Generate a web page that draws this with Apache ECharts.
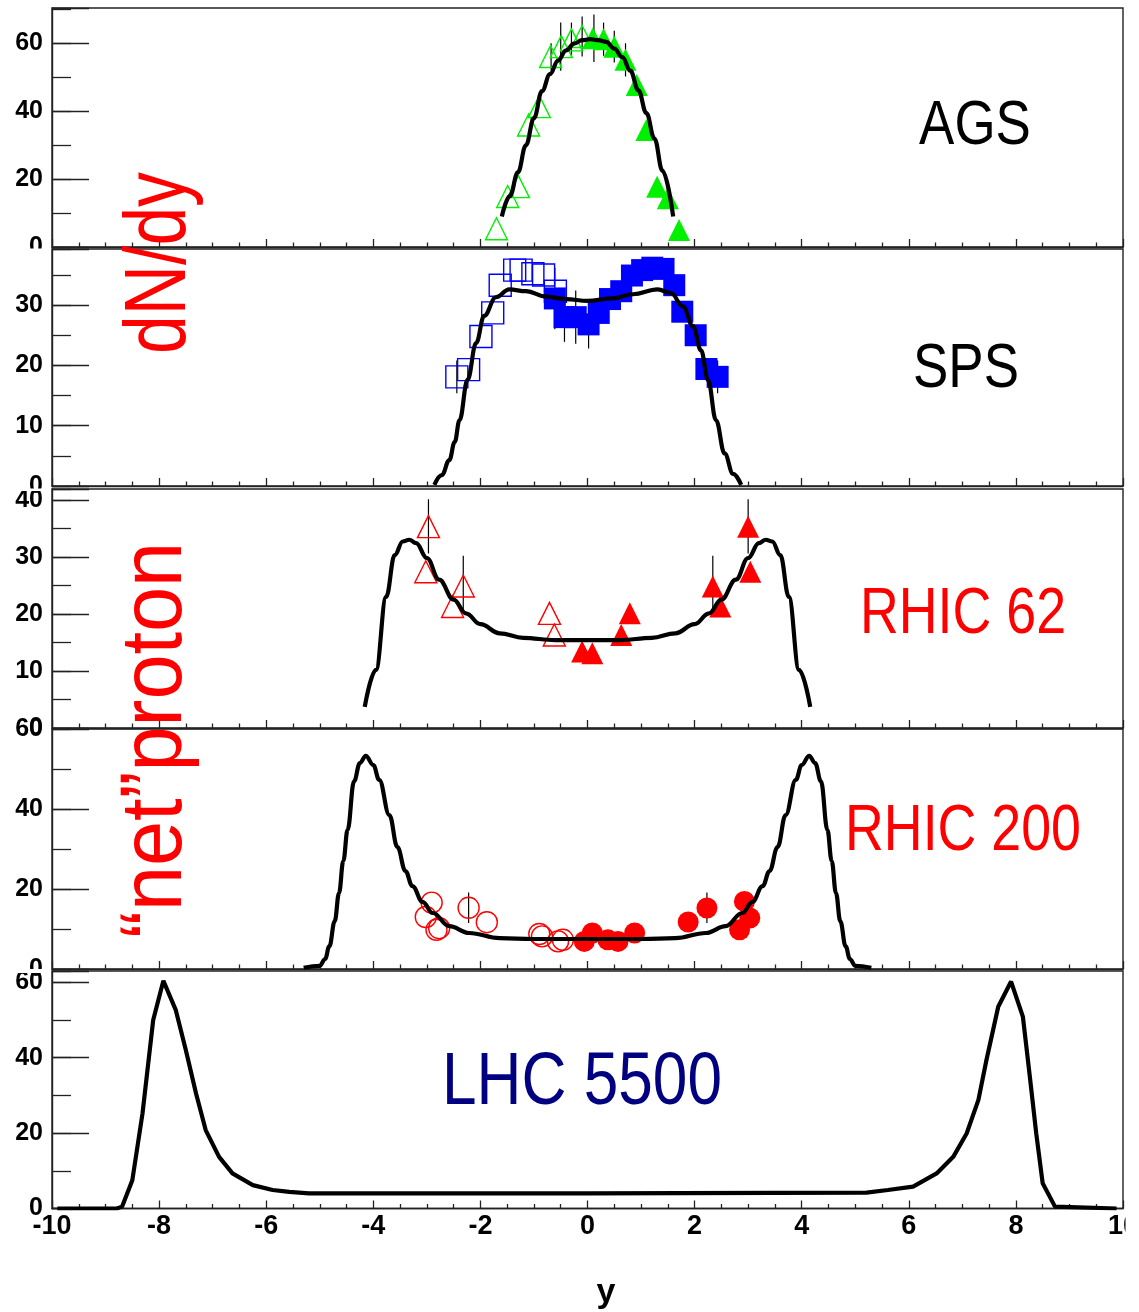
<!DOCTYPE html>
<html><head><meta charset="utf-8">
<script src="https://cdn.jsdelivr.net/npm/echarts@6/dist/echarts.min.js"></script>
<style>html,body{margin:0;padding:0;background:#fff}#chart{width:1139px;height:1312px}</style>
</head><body><div id="chart"></div>
<script>
// ---------- shared axis data ----------
const xTickLabels = [-10, -8, -6, -4, -2, 0, 2, 4, 6, 8, 10];
const panelNames = ['AGS', 'SPS', 'RHIC 62', 'RHIC 200', 'LHC 5500'];
const yMaxValues = [70.5, 39.3, 41.9, 60, 63];
const yMajorStep = [20, 10, 10, 20, 20];

// ---------- AGS ----------
const agsCurveX = [-1.6,-1.45,-1.3,-1.15,-1.0,-0.85,-0.7,-0.55,-0.4,-0.25,-0.1,0.05,0.2,0.35,0.5,0.65,0.8,0.95,1.1,1.25,1.4,1.6];
const agsCurveY = [9,15,22,30,38,46,51,55,58,60,61,61.3,61,60.5,58.5,56,52,46.2,39.5,32,22.5,9];
const agsOpenX = [-1.70,-1.49,-1.29,-1.10,-0.90,-0.69,-0.49,-0.30,-0.10];
const agsOpenY = [5.4,14.9,17.8,36.0,41.4,56.2,59.1,61.1,62.1];
const agsFullX = [0.10,0.30,0.50,0.71,0.92,1.10,1.30,1.50,1.71];
const agsFullY = [61.6,61.3,59.1,55.2,47.8,34.5,17.8,14.4,5.0];
const agsErrX  = [-0.68,-0.50,-0.30,-0.10,0.12,0.30,0.50,0.71];
const agsErrLo = [52.3,52.0,56.0,56.2,54.6,56.4,54.4,50.3];
const agsErrHi = [60.1,66.2,66.2,68.0,68.6,66.2,63.8,60.1];

// ---------- SPS ----------
const spsCurveX = [-2.86,-2.72,-2.58,-2.48,-2.39,-2.24,-2.08,-1.93,-1.71,-1.46,-1.15,-0.77,-0.4,0,0.47,0.85,1.31,1.56,1.78,1.97,2.12,2.25,2.4,2.56,2.72,2.87];
const spsCurveY = [0.2,1.8,4.3,7.3,10.9,17.6,23.7,28.2,31.3,32.6,32.3,31.4,31.0,30.7,31.1,31.8,32.6,32.0,29.8,26.5,22.5,17.6,10.9,5.4,2.0,0.2];
const spsOpenX = [-2.44,-2.22,-1.99,-1.77,-1.63,-1.36,-1.24,-1.02,-0.82,-0.60];
const spsOpenY = [18.1,19.3,24.8,28.7,33.3,35.8,35.8,35.2,35.0,32.3];
const spsFullX = [-0.61,-0.43,-0.22,0.02,0.21,0.42,0.63,0.83,1.02,1.21,1.42,1.62,1.77,2.02,2.22,2.43];
const spsFullY = [31.1,28.0,28.0,26.8,28.7,31.0,32.3,34.9,35.8,36.2,36.0,33.3,28.9,25.0,19.4,18.1];
const spsErrX  = [-2.44,-0.61,-0.43,-0.22,0.02,2.43];
const spsErrLo = [15.4,26.0,23.9,23.6,22.8,15.4];
const spsErrHi = [20.8,36.2,32.1,32.4,30.8,20.8];

// ---------- RHIC 62 ----------
const r62CurveX = [-4.16,-3.95,-3.76,-3.6,-3.45,-3.33,-3.2,-3.0,-2.77,-2.5,-2.27,-2.0,-1.64,-1.2,-0.6,0,0.6,1.2,1.64,2.0,2.27,2.5,2.77,3.0,3.2,3.33,3.45,3.6,3.76,3.95,4.16];
const r62CurveY = [3.7,10.2,23,30.3,32.7,33.0,32.4,29.8,26.0,22.5,20.1,18.2,16.6,15.8,15.4,15.4,15.4,15.8,16.6,18.2,20.1,22.5,26.0,29.8,32.4,33.0,32.7,30.3,23,10.2,3.7];
const r62OpenX = [-3.02,-2.97,-2.52,-2.32,-0.71,-0.62];
const r62OpenY = [27.4,35.3,21.3,24.9,20.1,16.3];
const r62FullX = [-0.10,0.09,0.63,0.79,2.34,2.48,3.00,3.04];
const r62FullY = [13.4,13.1,16.3,20.1,24.8,21.3,35.3,27.4];
const r62ErrX  = [-2.97,-2.32,2.34,3.00];
const r62ErrLo = [30.6,20.7,21.0,30.6];
const r62ErrHi = [40.1,30.2,30.2,40.1];

// ---------- RHIC 200 ----------
const r200CurveX = [-5.3,-5.0,-4.9,-4.82,-4.72,-4.64,-4.56,-4.48,-4.36,-4.25,-4.14,-4.0,-3.89,-3.7,-3.55,-3.4,-3.27,-3.08,-2.89,-2.58,-2.21,-1.64,-1.02,0,1.02,1.64,2.21,2.58,2.89,3.08,3.27,3.4,3.55,3.7,3.89,4.0,4.14,4.25,4.36,4.48,4.56,4.64,4.72,4.82,4.9,5.0,5.3];
const r200CurveY = [0.3,0.8,2.5,5.7,12,19,27,34.8,46.9,51.5,53.3,51,47.3,38.5,30.5,24.5,20.7,16.8,14,10.7,9.0,7.7,7.5,7.5,7.5,7.7,9.0,10.7,14,16.8,20.7,24.5,30.5,38.5,47.3,51,53.3,51.5,46.9,34.8,27,19,12,5.7,2.5,0.8,0.3];
const r200OpenX = [-3.02,-2.91,-2.82,-2.77,-2.22,-1.88,-0.90,-0.85,-0.55,-0.46];
const r200OpenY = [13.0,16.6,9.8,10.2,15.3,11.7,8.75,8.15,6.9,7.3];
const r200FullX = [-0.06,0.09,0.38,0.57,0.88,1.88,2.23,2.84,2.93,3.03];
const r200FullY = [6.9,9.0,7.3,6.9,9.0,11.75,15.25,9.8,16.9,12.75];
const r200ErrX  = [-2.22,2.23];
const r200ErrLo = [11.5,11.5];
const r200ErrHi = [19.1,19.1];

// ---------- LHC 5500 ----------
const lhcCurveX = [-9.9,-8.79,-8.69,-8.5,-8.31,-8.11,-7.92,-7.69,-7.5,-7.31,-7.13,-6.88,-6.63,-6.25,-5.88,-5.57,-5.2,0,5.21,5.61,6.08,6.52,6.83,7.08,7.3,7.45,7.67,7.91,8.13,8.26,8.38,8.5,8.73,9.88];
const lhcCurveY = [0,0,0.5,7.5,25.2,50,60.4,52.7,42,30.5,20.8,13.7,9.3,6.2,4.9,4.4,4.0,4.0,4.2,4.9,5.8,9.3,13.7,19.9,28.8,39.4,53.5,60.2,50.9,35,19.9,6.7,0.5,0];

// ---------- build ----------
const FONT = '"Liberation Sans", Arial, Helvetica, sans-serif';
const zip = (xs, ys) => xs.map((x, k) => [x, ys[k]]);
const zip3 = (xs, a, b) => xs.map((x, k) => [x, a[k], b[k]]);

const gridBoxes = [
  {top: 8, height: 239},
  {top: 249, height: 237},
  {top: 489, height: 239},
  {top: 729, height: 240},
  {top: 971, height: 237.5}
];
const grids = gridBoxes.map(g => ({
  left: 52, right: 16, top: g.top, height: g.height,
  show: true, borderColor: '#222', borderWidth: 1.4,
  backgroundColor: 'rgba(0,0,0,0)', outerBoundsMode: 'none'
}));

const xAxes = gridBoxes.map((g, i) => ({
  type: 'value', gridIndex: i, min: xTickLabels[0], max: xTickLabels[xTickLabels.length - 1], interval: 2,
  axisLine: {show: true, onZero: false, lineStyle: {color: '#222', width: 1.4}},
  axisTick: {show: true, inside: true, length: 8, lineStyle: {color: '#222', width: 1.3}},
  minorTick: {show: true, splitNumber: 4, length: 4.5, lineStyle: {color: '#222', width: 1.3}},
  splitLine: {show: false}, minorSplitLine: {show: false},
  axisLabel: {show: i === 4, margin: 5, color: '#000', fontSize: 27, fontWeight: 'bold', fontFamily: FONT,
    formatter: v => (xTickLabels.indexOf(v) >= 0 ? String(v) : '')}
}));

const yAxes = [];
gridBoxes.forEach((g, i) => {
  yAxes.push({
    type: 'value', gridIndex: i, position: 'left', min: 0, max: yMaxValues[i], interval: yMajorStep[i] / 2,
    axisLine: {show: true, onZero: false, lineStyle: {color: '#222', width: 1.4}},
    axisTick: {show: true, inside: true, length: 19, lineStyle: {color: '#222', width: 1.3}},
    axisLabel: {show: false}, splitLine: {show: false}
  });
  yAxes.push({
    type: 'value', gridIndex: i, position: 'left', min: 0, max: yMaxValues[i], interval: yMajorStep[i],
    axisLine: {show: false, onZero: false},
    axisTick: {show: true, inside: true, length: 37, lineStyle: {color: '#222', width: 1.3}},
    axisLabel: {show: true, margin: 9, color: '#000', fontSize: 25, fontWeight: 'bold', fontFamily: FONT,
      formatter: v => (Math.abs(v % yMajorStep[i]) < 1e-9 ? String(v) : '')},
    splitLine: {show: false}
  });
});

function errSeries(i, xs, lo, hi) {
  return {
    type: 'custom', xAxisIndex: i, yAxisIndex: 2 * i, z: 1, silent: true,
    encode: {x: 0, y: [1, 2]},
    data: zip3(xs, lo, hi),
    renderItem: (params, api) => {
      const a = api.coord([api.value(0), api.value(1)]);
      const b = api.coord([api.value(0), api.value(2)]);
      return {type: 'line', shape: {x1: a[0], y1: a[1], x2: b[0], y2: b[1]}, style: {stroke: '#000', lineWidth: 1.2}};
    }
  };
}
function markerSeries(i, xs, ys, symbol, size, color, filled) {
  return {
    type: 'scatter', xAxisIndex: i, yAxisIndex: 2 * i, z: 2, silent: true,
    symbol: symbol, symbolSize: size, data: zip(xs, ys),
    itemStyle: filled ? {color: color, opacity: 1} : {color: 'rgba(0,0,0,0)', borderColor: color, borderWidth: 1.4, opacity: 1}
  };
}
function curveSeries(i, xs, ys, smooth) {
  return {
    type: 'line', xAxisIndex: i, yAxisIndex: 2 * i, z: 3, silent: true,
    showSymbol: false, smooth: smooth, smoothMonotone: 'x',
    data: zip(xs, ys), lineStyle: {color: '#000', width: 4.2}
  };
}

const series = [
  errSeries(0, agsErrX, agsErrLo, agsErrHi),
  markerSeries(0, agsOpenX, agsOpenY, 'triangle', 22, '#00f000', false),
  markerSeries(0, agsFullX, agsFullY, 'triangle', 22, '#00f000', true),
  curveSeries(0, agsCurveX, agsCurveY, 0.4),

  errSeries(1, spsErrX, spsErrLo, spsErrHi),
  markerSeries(1, spsOpenX, spsOpenY, 'rect', 22, '#0000ff', false),
  markerSeries(1, spsFullX, spsFullY, 'rect', 22, '#0000ff', true),
  curveSeries(1, spsCurveX, spsCurveY, 0.4),

  errSeries(2, r62ErrX, r62ErrLo, r62ErrHi),
  markerSeries(2, r62OpenX, r62OpenY, 'triangle', 22, '#ff0000', false),
  markerSeries(2, r62FullX, r62FullY, 'triangle', 22, '#ff0000', true),
  curveSeries(2, r62CurveX, r62CurveY, 0.4),

  errSeries(3, r200ErrX, r200ErrLo, r200ErrHi),
  markerSeries(3, r200OpenX, r200OpenY, 'circle', 21, '#ff0000', false),
  markerSeries(3, r200FullX, r200FullY, 'circle', 21, '#ff0000', true),
  curveSeries(3, r200CurveX, r200CurveY, 0.4),

  curveSeries(4, lhcCurveX, lhcCurveY, false)
];

const labelPos = [[975, 127, 63, '#000'], [966, 370, 63, '#000'], [963, 615, 64, '#ff0000'], [963, 832, 64, '#ff0000'], [582, 1084, 74, '#000080']];
const graphic = [];
panelNames.forEach((name, i) => {
  const p = labelPos[i];
  graphic.push({type: 'text', x: p[0], y: p[1], scaleX: 0.84, z: 50, silent: true,
    style: {text: name, font: p[2] + 'px ' + FONT, fill: p[3], align: 'center', verticalAlign: 'middle'}});
});
graphic.push({type: 'text', x: 161, y: 263, rotation: Math.PI / 2, scaleX: 0.8, z: 50, silent: true,
  style: {text: 'dN/dy', font: '87px ' + FONT, fill: '#ff0000', align: 'center', verticalAlign: 'middle'}});
graphic.push({type: 'text', x: 157, y: 740, rotation: Math.PI / 2, scaleX: 0.92, z: 50, silent: true,
  style: {text: '\u201Cnet\u201Dproton', font: '88px ' + FONT, fill: '#ff0000', align: 'center', verticalAlign: 'middle'}});
graphic.push({type: 'text', x: 606, y: 1293, z: 50, silent: true,
  style: {text: 'y', font: 'bold 34px ' + FONT, fill: '#000', align: 'center', verticalAlign: 'middle'}});
// pad clipping of the tick labels at the panel borders
[[248.5, 8.5], [488.5, 2.5], [969, 4]].forEach(r => {
  graphic.push({type: 'rect', z: 100, silent: true, shape: {x: 0, y: r[0], width: 50, height: r[1]}, style: {fill: '#fff'}});
});
graphic.push({type: 'rect', z: 100, silent: true, shape: {x: 1125.5, y: 1212, width: 14, height: 36}, style: {fill: '#fff'}});

const chart = echarts.init(document.getElementById('chart'), null, {renderer: 'canvas'});
chart.setOption({
  animation: false,
  backgroundColor: '#fff',
  grid: grids,
  xAxis: xAxes,
  yAxis: yAxes,
  series: series,
  graphic: graphic
});
</script>
</body></html>
